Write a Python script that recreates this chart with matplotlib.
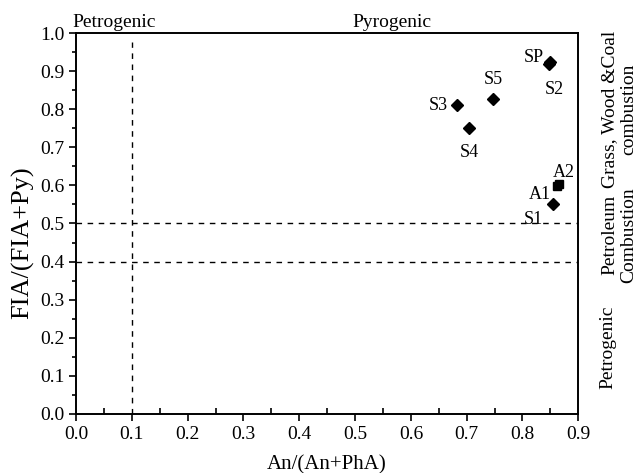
import matplotlib

matplotlib.use("Agg")
import matplotlib.pyplot as plt  # noqa: E402
from matplotlib.ticker import MultipleLocator  # noqa: E402

plt.rcParams["font.family"] = ["Liberation Serif", "DejaVu Serif"]

# diamond samples
diamond_names = ["SP", "S2", "S5", "S3", "S4", "S1"]
diamond_x = [0.850, 0.847, 0.748, 0.682, 0.704, 0.855]
diamond_y = [0.925, 0.920, 0.827, 0.811, 0.751, 0.551]

# square samples
square_names = ["A1", "A2"]
square_x = [0.861, 0.866]
square_y = [0.598, 0.604]

x_ticks = [0.0, 0.1, 0.2, 0.3, 0.4, 0.5, 0.6, 0.7, 0.8, 0.9]
y_ticks = [0.0, 0.1, 0.2, 0.3, 0.4, 0.5, 0.6, 0.7, 0.8, 0.9, 1.0]

# label offsets in points (dx, dy, ha, va)
label_pos = {
    "SP": (-5, 3, "right", "center"),
    "S2": (4, -19, "center", "center"),
    "S5": (0, 14, "center", "center"),
    "S3": (-6, 0, "right", "center"),
    "S4": (0, -18, "center", "center"),
    "S1": (-7, -11, "right", "center"),
    "A1": (-4, -6, "right", "center"),
    "A2": (3, 8, "center", "center"),
}

fig = plt.figure(figsize=(6.39, 4.73), dpi=100)
ax = fig.add_axes([0.119, 0.125, 0.786, 0.805])

ax.plot([0.1, 0.1], [0.0, 0.976], ls=(0, (4, 4)), color="black", lw=1)
ax.plot([0.0, 0.9], [0.5, 0.5], ls=(0, (4, 4)), color="black", lw=1)
ax.plot([0.0, 0.9], [0.4, 0.4], ls=(0, (4, 4)), color="black", lw=1)

ax.plot(diamond_x, diamond_y, "D", color="black", ms=6.5, ls="none")
ax.plot(square_x, square_y, "s", color="black", ms=6, ls="none")

for name, x, y in zip(diamond_names + square_names,
                      diamond_x + square_x, diamond_y + square_y):
    dx, dy, ha, va = label_pos[name]
    ax.annotate(name, (x, y), xytext=(dx, dy), textcoords="offset points",
                ha=ha, va=va, fontsize=13)

ax.set_xlim(0, 0.9)
ax.set_ylim(0, 1.0)
ax.set_xticks(x_ticks)
ax.set_yticks(y_ticks)
ax.set_xticklabels([f"{t:.1f}" for t in x_ticks])
ax.set_yticklabels([f"{t:.1f}" for t in y_ticks])
ax.xaxis.set_minor_locator(MultipleLocator(0.05))
ax.yaxis.set_minor_locator(MultipleLocator(0.05))
ax.tick_params(which="major", direction="out", length=5, width=1.2, labelsize=14)
ax.tick_params(axis="x", which="minor", direction="in", length=4, width=1.2)
ax.tick_params(axis="y", which="minor", direction="out", length=3, width=1.2)
for sp in ax.spines.values():
    sp.set_linewidth(1.4)

ax.set_xlabel("An/(An+PhA)", fontsize=15, labelpad=9)
ax.set_ylabel("FIA/(FIA+Py)", fontsize=19)
ax.yaxis.set_label_coords(-0.083, 0.45)

ax.text(-0.007, 1.005, "Petrogenic", fontsize=14, ha="left", va="bottom")
ax.text(0.566, 1.005, "Pyrogenic", fontsize=14, ha="center", va="bottom")

ax.text(1.081, 0.80, "Grass, Wood &Coal\ncombustion", transform=ax.transAxes,
        rotation=90, ha="center", va="center", multialignment="center",
        fontsize=14, linespacing=1.15)
ax.text(1.081, 0.47, "Petroleum\nCombustion", transform=ax.transAxes,
        rotation=90, ha="center", va="center", multialignment="center",
        fontsize=14, linespacing=1.15)
ax.text(1.058, 0.176, "Petrogenic", transform=ax.transAxes,
        rotation=90, ha="center", va="center", fontsize=14)

fig.savefig("out.png", dpi=100)
